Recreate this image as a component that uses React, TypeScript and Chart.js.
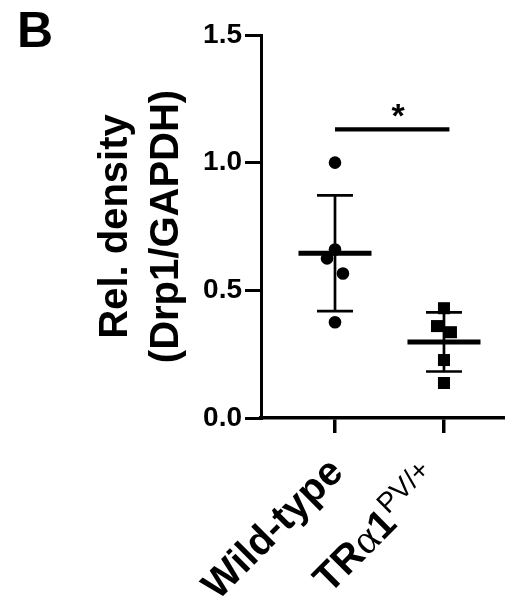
import { useEffect, useRef } from 'react';
import { Chart, registerables } from 'chart.js';

Chart.register(...registerables);

// ---- data ----
const categories = ['Wild-type', 'TRα1'];
const superscripts = ['', 'PV/+'];
const wildType = [1.0, 0.66, 0.625, 0.566, 0.375];
const wildTypeJitter = [0, 0, -0.073, 0.073, 0];
const trAlpha1 = [0.43, 0.36, 0.336, 0.227, 0.137];
const trAlpha1Jitter = [0, -0.064, 0.064, 0, 0];
const yTicks = [0, 0.5, 1.0, 1.5];
const yTitle = ['Rel. density', '(Drp1/GAPDH)'];
const panelLabel = 'B';
const sigSpan = [0, 1.05];
const sigLevel = 1.13;
const sigText = '*';
const sigTextX = 0.58;

const FONT = '"Liberation Sans", Arial, Helvetica, sans-serif';
// pixel offsets (style) of each rotated category label's end from its tick
const LABEL_OFFSETS = [
  [10, 56],
  [-2, 64],
];

const mean = (a: number[]) => a.reduce((s, v) => s + v, 0) / a.length;
const sd = (a: number[]) => {
  const m = mean(a);
  return Math.sqrt(a.reduce((s, v) => s + (v - m) * (v - m), 0) / (a.length - 1));
};

const groups = [wildType, trAlpha1];

function seg(x1: number, y1: number, x2: number, y2: number, width: number) {
  return {
    type: 'scatter' as const,
    data: [
      { x: x1, y: y1 },
      { x: x2, y: y2 },
    ],
    showLine: true,
    borderColor: '#000',
    backgroundColor: '#000',
    borderWidth: width,
    pointRadius: 0,
    pointHoverRadius: 0,
    fill: false,
  };
}

const textPlugin = {
  id: 'figureText',
  afterDraw(chart: any) {
    const { ctx } = chart;
    const xs = chart.scales.x;
    const ys = chart.scales.y;
    ctx.save();
    ctx.fillStyle = '#000';
    // panel label
    ctx.font = `bold 50px ${FONT}`;
    ctx.textAlign = 'left';
    ctx.textBaseline = 'alphabetic';
    ctx.fillText(panelLabel, 17, 47);
    // significance asterisk
    ctx.font = `bold 34px ${FONT}`;
    ctx.textAlign = 'center';
    ctx.fillText(sigText, xs.getPixelForValue(sigTextX), ys.getPixelForValue(sigLevel) - 2);
    // x category labels
    const axisY = ys.getPixelForValue(0);
    categories.forEach((cat, i) => {
      const segs: { text: string; font: string; dy: number; w?: number }[] = [];
      const mainFont = `bold 40px ${FONT}`;
      const greekFont = `normal 42px "Liberation Serif", "DejaVu Serif", serif`;
      for (const ch of cat) {
        const greek = /[\u0370-\u03ff]/.test(ch);
        const f = greek ? greekFont : mainFont;
        const last = segs[segs.length - 1];
        if (last && last.font === f) last.text += ch;
        else segs.push({ text: ch, font: f, dy: 0 });
      }
      if (superscripts[i]) segs.push({ text: superscripts[i], font: `normal 28px ${FONT}`, dy: -15 });
      let total = 0;
      for (const s of segs) {
        ctx.font = s.font;
        s.w = ctx.measureText(s.text).width;
        total += s.w;
      }
      const off = LABEL_OFFSETS[i] || [10, 56];
      ctx.save();
      ctx.translate(xs.getPixelForValue(i) + off[0], axisY + off[1]);
      ctx.rotate(-Math.PI / 4);
      ctx.textAlign = 'left';
      ctx.textBaseline = 'alphabetic';
      let cx = -total;
      for (const s of segs) {
        ctx.font = s.font;
        ctx.fillText(s.text, cx, s.dy);
        cx += s.w as number;
      }
      ctx.restore();
    });
    ctx.restore();
  },
};

export default function App() {
  const ref = useRef<HTMLCanvasElement | null>(null);

  useEffect(() => {
    if (!ref.current) return;
    const datasets: any[] = [];
    groups.forEach((g, i) => {
      const m = mean(g);
      const s = sd(g);
      datasets.push(seg(i - 0.335, m, i + 0.335, m, 5));
      datasets.push(seg(i, m - s, i, m + s, 2.7));
      datasets.push(seg(i - 0.165, m + s, i + 0.165, m + s, 2.7));
      datasets.push(seg(i - 0.165, m - s, i + 0.165, m - s, 2.7));
    });
    datasets.push({
      type: 'scatter',
      data: wildType.map((v, k) => ({ x: 0 + wildTypeJitter[k], y: v })),
      pointStyle: 'circle',
      pointRadius: 6.3,
      pointHoverRadius: 6.3,
      backgroundColor: '#000',
      borderColor: '#000',
      borderWidth: 0,
    });
    datasets.push({
      type: 'scatter',
      data: trAlpha1.map((v, k) => ({ x: 1 + trAlpha1Jitter[k], y: v })),
      pointStyle: 'rect',
      pointRadius: 8.5,
      pointHoverRadius: 8.5,
      backgroundColor: '#000',
      borderColor: '#000',
      borderWidth: 0,
    });
    datasets.push(seg(sigSpan[0], sigLevel, sigSpan[1], sigLevel, 4.3));

    const chart = new Chart(ref.current, {
      type: 'scatter',
      data: { datasets },
      options: {
        animation: false,
        responsive: false,
        devicePixelRatio: 1,
        layout: { autoPadding: false, padding: { top: 35, left: 0, right: 0, bottom: 0 } },
        plugins: { legend: { display: false }, tooltip: { enabled: false } },
        scales: {
          x: {
            type: 'linear',
            position: 'bottom',
            min: -0.679,
            max: 1.56,
            afterBuildTicks: (scale: any) => {
              scale.ticks = categories.map((_, i) => ({ value: i }));
            },
            afterFit: (scale: any) => {
              scale.height = 186;
            },
            ticks: { display: false },
            grid: {
              display: true,
              drawOnChartArea: false,
              drawTicks: true,
              tickLength: 15,
              lineWidth: 3.5,
              color: '#000',
            },
            border: { display: true, color: '#000', width: 3.5, dash: [10, 1] },
          },
          y: {
            type: 'linear',
            min: 0,
            max: 1.5,
            afterBuildTicks: (scale: any) => {
              scale.ticks = yTicks.map((v) => ({ value: v }));
            },
            afterFit: (scale: any) => {
              scale.width = 261;
            },
            ticks: {
              color: '#000',
              padding: 3,
              font: { family: FONT, size: 28, weight: 'bold' },
              callback: (v: any) => Number(v).toFixed(1),
            },
            grid: {
              display: true,
              drawOnChartArea: false,
              drawTicks: true,
              tickLength: 16,
              lineWidth: 3,
              color: '#000',
            },
            border: { display: true, color: '#000', width: 3 },
            title: {
              display: true,
              text: yTitle,
              color: '#000',
              font: { family: FONT, size: 40, weight: 'bold', lineHeight: 1.28 },
              padding: { top: 90, bottom: 0 },
            },
          },
        },
      },
      plugins: [textPlugin],
    } as any);
    return () => chart.destroy();
  }, []);

  return (
    <div style={{ position: 'absolute', left: 0, top: 0, width: 505, height: 604, background: '#fff' }}>
      <canvas ref={ref} width={505} height={604} style={{ width: 505, height: 604, display: 'block' }} />
    </div>
  );
}
